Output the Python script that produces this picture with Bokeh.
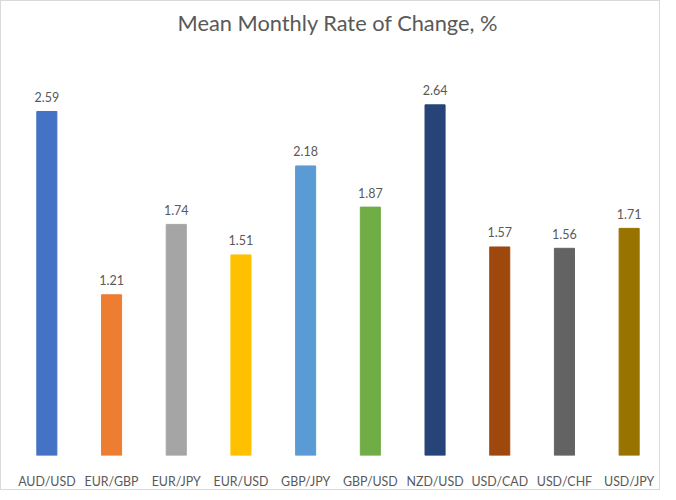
from bokeh.plotting import figure
from bokeh.models import ColumnDataSource, Range1d, LabelSet, Label
from bokeh.core.properties import value
from bokeh.embed import file_html
from bokeh.resources import INLINE

pairs = ["AUD/USD", "EUR/GBP", "EUR/JPY", "EUR/USD", "GBP/JPY",
         "GBP/USD", "NZD/USD", "USD/CAD", "USD/CHF", "USD/JPY"]
rates = [2.59, 1.21, 1.74, 1.51, 2.18, 1.87, 2.64, 1.57, 1.56, 1.71]
colors = ["#4472C4", "#ED7D31", "#A5A5A5", "#FFC000", "#5B9BD5",
          "#70AD47", "#264478", "#9E480E", "#636363", "#997300"]
labels = [f"{v:.2f}" for v in rates]
title_text = "Mean Monthly Rate of Change, %"

src = ColumnDataSource(dict(x=pairs, top=rates, color=colors, label=labels))

FONT = "Lato"
GREY = "#595959"

W, H = 660, 490
BOTTOM = 33
FRAME_H = H - BOTTOM
PX_PER_UNIT = 133.7

p = figure(x_range=pairs, y_range=Range1d(0, FRAME_H / PX_PER_UNIT), width=W, height=H,
           output_backend="svg", toolbar_location=None,
           min_border_left=13, min_border_right=0, min_border_bottom=BOTTOM, min_border_top=0)

p.vbar(x="x", top="top", width=0.31, color="color", source=src)

p.add_layout(LabelSet(x="x", y="top", text="label", source=src,
                      text_align="center", text_baseline="bottom", y_offset=9.5,
                      text_font=value(FONT), text_font_size=value("12.5px"), text_color=GREY))

p.add_layout(Label(x=323.5, y=FRAME_H - 24, x_units="screen", y_units="screen",
                   text=title_text, text_align="center", text_baseline="middle",
                   text_font=FONT, text_font_size="21.8px", text_color=GREY))

p.yaxis.visible = False
p.xgrid.grid_line_color = None
p.ygrid.grid_line_color = None
p.outline_line_color = None
p.xaxis.axis_line_color = None
p.xaxis.major_tick_line_color = None
p.xaxis.minor_tick_line_color = None
p.xaxis.major_tick_out = 0
p.xaxis.minor_tick_out = 0
p.xaxis.major_tick_in = 0
p.xaxis.major_label_standoff = 18
p.xaxis.major_label_text_font = FONT
p.xaxis.major_label_text_font_size = "12.4px"
p.xaxis.major_label_text_color = GREY
p.styles = {"border": "1px solid #D9D9D9"}

open("out.html", "w").write(file_html(p, INLINE))
